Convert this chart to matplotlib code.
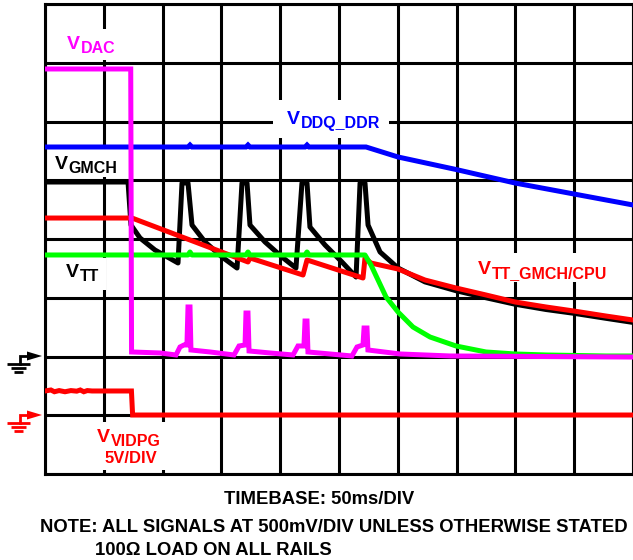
import matplotlib
matplotlib.use("Agg")
import matplotlib.pyplot as plt
from matplotlib.transforms import Affine2D
from matplotlib.lines import Line2D
from matplotlib.patches import Polygon, Rectangle

# ---------------- data (time in ms, level in screen divisions) ----------------
vdac_t = [0, 72.9, 73.6, 97.8, 111.4, 114.8, 118.2, 120.7, 121.6, 123.3, 124.1, 140.3,
          160.7, 165.0, 170.1, 170.9, 172.6, 173.5, 191.3, 210.9, 215.1, 220.2, 221.1,
          222.8, 223.6, 242.3, 261.0, 265.3, 270.4, 271.3, 273.8, 274.6, 301.9, 344.4, 500]
vdac_v = [6.894, 6.894, 2.077, 2.060, 2.026, 2.162, 2.196, 2.196, 2.843, 2.843, 2.111, 2.077,
          2.026, 2.179, 2.196, 2.740, 2.740, 2.094, 2.060, 2.026, 2.179, 2.179, 2.604,
          2.604, 2.077, 2.043, 2.009, 2.162, 2.196, 2.485, 2.485, 2.111, 2.043, 2.009, 1.991]

vddq_t = [0, 121.6, 123.3, 125.0, 170.9, 172.6, 174.3, 221.1, 222.8, 224.5, 273.0,
          300.2, 349.5, 399.7, 449.8, 500]
vddq_v = [5.566, 5.566, 5.60, 5.566, 5.566, 5.60, 5.566, 5.566, 5.60, 5.566, 5.566,
          5.396, 5.183, 4.953, 4.766, 4.579]

vgmch_t = [0, 70.6, 73.1, 80.8, 93.5, 113.1, 116.5, 121.6, 125.0, 136.1, 150.5, 163.3,
           167.5, 171.8, 174.3, 187.1, 201.5, 213.4, 218.5, 222.8, 225.3, 238.1, 252.5,
           264.5, 267.9, 272.1, 274.7, 284.9, 300.2, 323.1, 349.5, 375.0, 399.7, 426.0,
           449.8, 477.0, 500]
vgmch_v = [4.970, 4.970, 4.238, 4.017, 3.813, 3.592, 4.953, 4.953, 4.238, 3.949, 3.694, 3.506,
           4.953, 4.953, 4.238, 3.949, 3.694, 3.506, 4.953, 4.953, 4.204, 3.898, 3.609,
           3.353, 4.953, 4.953, 4.238, 3.779, 3.506, 3.27, 3.12, 3.00, 2.89, 2.80,
           2.735, 2.65, 2.58]

vttcpu_t = [0, 74.0, 172.6, 174.3, 219.4, 222.8, 270.4, 272.1, 277.2, 300.2, 323.1,
            349.5, 375.0, 399.7, 426.0, 449.8, 477.0, 500]
vttcpu_v = [4.357, 4.357, 3.609, 3.677, 3.387, 3.643, 3.336, 3.677, 3.591, 3.489, 3.302,
            3.166, 3.047, 2.928, 2.843, 2.774, 2.689, 2.621]

vtt_t = [0, 121.6, 123.3, 125.0, 170.9, 172.6, 174.3, 221.1, 222.8, 224.5, 272.1, 277.2,
         290.0, 300.2, 312.9, 327.4, 349.5, 375.0, 399.7, 426.0, 477.0, 500]
vtt_v = [3.728, 3.728, 3.779, 3.728, 3.728, 3.779, 3.728, 3.728, 3.779, 3.728, 3.728, 3.557,
         3.013, 2.757, 2.502, 2.332, 2.179, 2.077, 2.043, 2.026, 2.009, 2.009]

vvidpg_t = [0, 5, 8, 12, 17, 22, 27, 30, 33, 36, 40, 73.5, 74.5, 500]
vvidpg_v = [1.413, 1.43, 1.40, 1.42, 1.40, 1.42, 1.41, 1.43, 1.40, 1.42, 1.413, 1.413, 1.004, 1.004]

time_ticks = list(range(0, 501, 50))
level_ticks = list(range(0, 9))

# ---------------- figure ----------------
W, H = 633, 560
fig = plt.figure(figsize=(W / 100, H / 100), dpi=100)
ax = fig.add_axes([45 / W, (H - 474) / H, 588 / W, 470 / H])
PX = Affine2D().scale(1 / W, -1 / H).translate(0, 1) + fig.transFigure

ax.set_xlim(0, 500)
ax.set_ylim(0, 8)
ax.set_xticks(time_ticks)
ax.set_yticks(level_ticks)
ax.tick_params(length=0, labelbottom=False, labelleft=False)
ax.set_axisbelow(True)
ax.grid(True, color="black", lw=2.2)
for s in ax.spines.values():
    s.set_linewidth(2.2)

FONT = "Liberation Sans"

# white boxes behind labels (hide grid lines)
for (x0, y0, x1, y1) in [(60, 29, 121, 60), (273, 100, 389, 138), (49, 146, 124, 177),
                         (58, 258, 106, 290), (470, 253, 616, 282), (88, 422, 168, 470)]:
    ax.add_artist(Rectangle((x0, y1), x1 - x0, y0 - y1, transform=PX, facecolor="white",
                            edgecolor="none", zorder=2.8, clip_on=False))

lw = 3.6
ax.plot(vddq_t, vddq_v, color="#0000FF", lw=lw, zorder=4, solid_joinstyle="miter")
ax.plot(vgmch_t, vgmch_v, color="black", lw=lw, zorder=4.1)
ax.plot(vttcpu_t, vttcpu_v, color="#FF0000", lw=lw, zorder=4.2)
ax.plot(vtt_t, vtt_v, color="#00FF00", lw=lw, zorder=4.3)
ax.plot(vdac_t, vdac_v, color="#FF00FF", lw=lw, zorder=4.4, solid_joinstyle="miter")
ax.plot(vvidpg_t, vvidpg_v, color="#FF0000", lw=lw, zorder=4.2, solid_joinstyle="miter")


def vlabel(xp, yp, sub, color):
    t = ax.text(xp, yp, "V", transform=PX, fontsize=14, fontweight="bold", color=color,
                family=FONT, va="baseline", ha="left", zorder=3)
    ax.annotate(sub, xy=(1, 0), xycoords=t, xytext=(0.3, 0), textcoords="offset points",
                fontsize=11.5, fontweight="bold", color=color, family=FONT,
                va="baseline", ha="left", zorder=3)


vlabel(67, 49, "DAC", "#FF00FF")
vlabel(287, 124, "DDQ_DDR", "#0000FF")
vlabel(55, 169, "GMCH", "black")
vlabel(66, 277, "TT", "black")
vlabel(478, 274, "TT_GMCH/CPU", "#FF0000")
vlabel(97, 442, "VIDPG", "#FF0000")
ax.text(131, 463, "5V/DIV", transform=PX, fontsize=12, fontweight="bold", color="#FF0000",
        family=FONT, va="baseline", ha="center", zorder=3)

# ground reference markers
for y0, c in [(356, "black"), (415, "#FF0000")]:
    fig.add_artist(Line2D([19.5, 19.5, 30], [y0 + 8, y0, y0], transform=PX, color=c, lw=2.0,
                          solid_joinstyle="miter"))
    fig.add_artist(Polygon([(27, y0 - 4.5), (42, y0), (27, y0 + 4.5)], closed=True,
                           transform=PX, facecolor=c, edgecolor="none"))
    for xa, xb, dy in [(7, 30, 8), (10.5, 26, 12.2), (14, 23, 16.3)]:
        fig.add_artist(Line2D([xa, xb], [y0 + dy, y0 + dy], transform=PX, color=c, lw=2.0,
                              solid_capstyle="butt"))

# footer text
fig.text(319, 504, "TIMEBASE: 50ms/DIV", transform=PX, fontsize=13.3, fontweight="bold",
         family=FONT, ha="center", va="baseline")
fig.text(334, 532, "NOTE: ALL SIGNALS AT 500mV/DIV UNLESS OTHERWISE STATED", transform=PX,
         fontsize=13.3, fontweight="bold", family=FONT, ha="center", va="baseline")
fig.text(95, 555, "100\u03a9 LOAD ON ALL RAILS", transform=PX, fontsize=13.3,
         fontweight="bold", family=FONT, ha="left", va="baseline")

fig.savefig("out.png", dpi=100)
